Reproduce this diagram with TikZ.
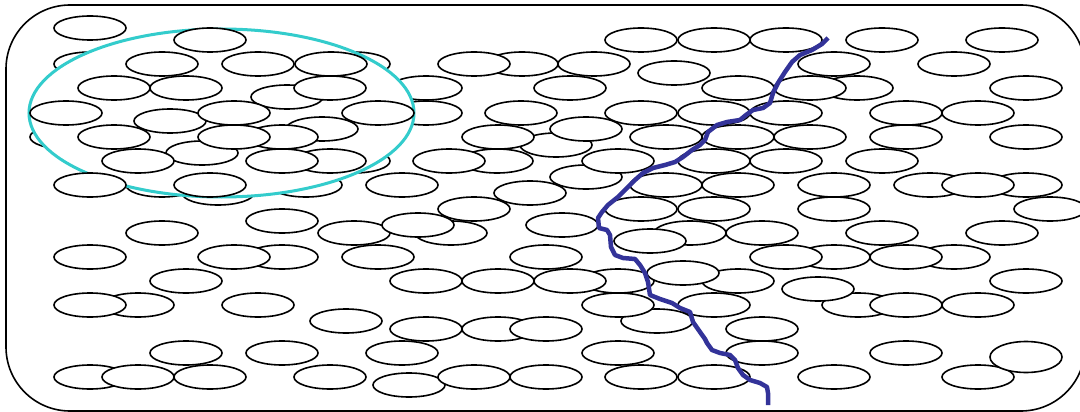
\documentclass[tikz,border=0pt]{standalone}
\usepackage{tikz}
\definecolor{cyanring}{RGB}{51,204,204}
\definecolor{pathblue}{RGB}{51,51,153}
\tikzset{
  cell/.style={draw=black,fill=white,line width=1.6pt},
  ring/.style={draw=cyanring,fill=white,line width=3pt},
  crack/.style={draw=pathblue,line width=4.5pt,line join=round},
  frame/.style={draw=black,line width=1.6pt,rounded corners=64pt}
}
\begin{document}
\begin{tikzpicture}[x=1pt,y=-1pt]
\useasboundingbox (0,0) rectangle (1080,412);
\draw[frame] (6,5) rectangle (1085,411);
% cells hidden behind the ring
\foreach \cx/\cy in {90/64,66/137,162/185,218/193,354/64,426/88,426/113,354/161,306/185}
  \path[cell] (\cx,\cy) ellipse [x radius=36pt,y radius=12pt];
% the ring
\path[ring] (221.5,113) ellipse [x radius=192.5pt,y radius=84pt];
% lower cells
\foreach \cx/\cy in {322/129,282/137,202/153,170/121,330/161,287/97,522/64,556/145,497/161,586/177,857/88,930/185,1026/185,954/257,834/257,858/305,978/377,451/233,354/233,282/257,138/305,90/377,498/329,690/233,618/281,738/281,657/321,409/385}
  \path[cell] (\cx,\cy) ellipse [x radius=36pt,y radius=12pt];
% upper cells
\foreach \cx/\cy in {90/28,210/40,162/64,258/64,331/64,114/88,186/88,330/88,66/113,234/113,378/113,114/137,234/137,138/161,282/161,90/185,210/185,
474/64,570/88,521/113,498/137,586/129,449/161,402/185,474/209,530/193,
641/40,714/40,786/40,882/40,1002/40,594/64,674/73,834/64,954/64,738/88,810/88,1026/88,641/113,714/113,786/113,906/113,978/113,666/137,738/137,810/137,906/137,1026/137,618/161,714/161,786/161,882/161,666/185,738/185,834/185,978/185,641/209,714/209,834/209,1050/209,
282/221,418/225,162/233,562/225,650/241,762/233,882/233,1002/233,90/257,234/257,378/257,546/257,786/257,906/257,186/281,426/281,498/281,570/281,683/273,1026/281,818/289,90/305,258/305,618/305,714/305,906/305,978/305,346/321,426/329,546/329,762/329,186/353,282/353,402/353,618/353,762/353,906/353,138/377,210/377,330/377,474/377,546/377,641/377,714/377,834/377}
  \path[cell] (\cx,\cy) ellipse [x radius=36pt,y radius=12pt];
\path[cell] (1026,357) ellipse [x radius=36pt,y radius=15.5pt];
% the crack
\draw[crack] (828,38) -- (822,44) -- (812,50) -- (800,55) -- (792,62) -- (785,72) -- (778,83) -- (773,93) -- (770,103) -- (763,108) -- (753,110) -- (746,115) -- (740,120) -- (727,122) -- (717,125) -- (708,132) -- (705,140) -- (700,145) -- (692,150) -- (683,157) -- (675,162) -- (665,165) -- (653,168) -- (643,173) -- (635,180) -- (627,188) -- (618,197) -- (608,205) -- (602,212) -- (598,218) -- (599,228) -- (607,230) -- (610,235) -- (611,247) -- (615,255) -- (623,258) -- (635,259) -- (640,265) -- (645,273) -- (648,282) -- (650,295) -- (660,299) -- (672,303) -- (680,308) -- (690,312) -- (693,322) -- (700,332) -- (705,339) -- (707,343) -- (712,350) -- (720,353) -- (730,355) -- (735,360) -- (738,368) -- (743,375) -- (750,380) -- (760,383) -- (767,387) -- (768,393) -- (768,405);
\end{tikzpicture}
\end{document}
